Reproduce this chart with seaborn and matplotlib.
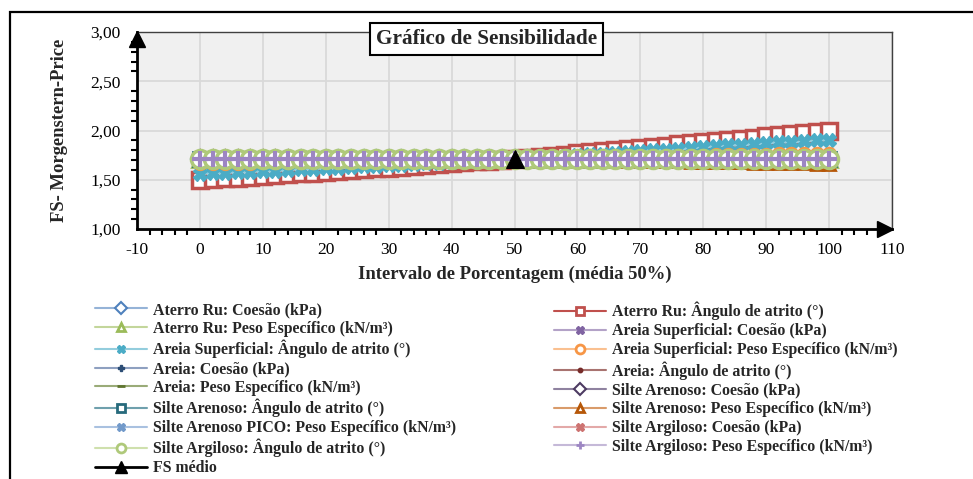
import matplotlib
matplotlib.use("Agg")
import matplotlib.pyplot as plt
import matplotlib.transforms as mtransforms
from matplotlib.lines import Line2D
from matplotlib.patches import Rectangle
from matplotlib.ticker import FuncFormatter, MultipleLocator
import seaborn as sns

# eixo x: intervalo de porcentagem
x_pct = [0, 2, 4, 6, 8, 10, 12, 14, 16, 18, 20, 22, 24, 26, 28, 30, 32, 34, 36, 38,
         40, 42, 44, 46, 48, 50, 52, 54, 56, 58, 60, 62, 64, 66, 68, 70, 72, 74, 76, 78,
         80, 82, 84, 86, 88, 90, 92, 94, 96, 98, 100]

fs_flat = [1.71, 1.71, 1.71, 1.71, 1.71, 1.71, 1.71, 1.71, 1.71, 1.71, 1.71, 1.71, 1.71,
           1.71, 1.71, 1.71, 1.71, 1.71, 1.71, 1.71, 1.71, 1.71, 1.71, 1.71, 1.71, 1.71,
           1.71, 1.71, 1.71, 1.71, 1.71, 1.71, 1.71, 1.71, 1.71, 1.71, 1.71, 1.71, 1.71,
           1.71, 1.71, 1.71, 1.71, 1.71, 1.71, 1.71, 1.71, 1.71, 1.71, 1.71, 1.71]

aterro_angulo = [1.50, 1.51, 1.52, 1.52, 1.53, 1.54, 1.55, 1.56, 1.57, 1.57, 1.58, 1.59, 1.60,
                 1.61, 1.62, 1.62, 1.63, 1.64, 1.65, 1.66, 1.67, 1.68, 1.69, 1.69, 1.70, 1.71,
                 1.72, 1.73, 1.74, 1.75, 1.77, 1.78, 1.79, 1.80, 1.81, 1.82, 1.83, 1.84, 1.86,
                 1.87, 1.88, 1.89, 1.90, 1.91, 1.92, 1.94, 1.95, 1.96, 1.97, 1.98, 1.99]

areia_sup_angulo = [1.56, 1.57, 1.57, 1.58, 1.58, 1.59, 1.59, 1.60, 1.61, 1.61, 1.62, 1.62, 1.63,
                    1.64, 1.64, 1.65, 1.65, 1.66, 1.67, 1.67, 1.68, 1.69, 1.69, 1.70, 1.70, 1.71,
                    1.72, 1.73, 1.73, 1.74, 1.75, 1.76, 1.76, 1.77, 1.78, 1.79, 1.80, 1.80, 1.81,
                    1.82, 1.83, 1.84, 1.85, 1.85, 1.86, 1.87, 1.88, 1.88, 1.89, 1.90, 1.90]

areia_sup_peso = [1.67, 1.67, 1.67, 1.67, 1.67, 1.68, 1.68, 1.68, 1.68, 1.68, 1.69, 1.69, 1.69,
                  1.69, 1.69, 1.70, 1.70, 1.70, 1.70, 1.70, 1.71, 1.71, 1.71, 1.71, 1.71, 1.71,
                  1.72, 1.72, 1.72, 1.72, 1.72, 1.73, 1.73, 1.73, 1.73, 1.73, 1.74, 1.74, 1.74,
                  1.74, 1.74, 1.75, 1.75, 1.75, 1.75, 1.75, 1.76, 1.76, 1.76, 1.76, 1.76]

silte_arenoso_peso = [1.73, 1.73, 1.73, 1.73, 1.73, 1.73, 1.73, 1.73, 1.72, 1.72, 1.72, 1.72, 1.72,
                      1.72, 1.72, 1.72, 1.72, 1.72, 1.72, 1.72, 1.72, 1.72, 1.71, 1.71, 1.71, 1.71,
                      1.71, 1.71, 1.71, 1.70, 1.70, 1.70, 1.70, 1.70, 1.69, 1.69, 1.69, 1.69, 1.69,
                      1.68, 1.68, 1.68, 1.68, 1.68, 1.67, 1.67, 1.67, 1.67, 1.67, 1.66, 1.66]

fs_medio_x = [50]
fs_medio_y = [1.71]

y_ticks = [1.00, 1.50, 2.00, 2.50, 3.00]
x_ticks = [-10, 0, 10, 20, 30, 40, 50, 60, 70, 80, 90, 100, 110]

# (rotulo, dados, cor linha, marcador, tamanho, cor marcador, preenchimento, espessura)
series = [
    ("Aterro Ru: Coesão (kPa)", fs_flat, "#95b3d7", "D", 9, "#4F81BD", "white", 1.5),
    ("Aterro Ru: Ângulo de atrito (°)", aterro_angulo, "#C0504D", "s", 11, "#C0504D", "white", 2.5),
    ("Aterro Ru: Peso Específico (kN/m³)", fs_flat, "#c3d69b", "^", 12, "#9BBB59", "white", 2),
    ("Areia Superficial: Coesão (kPa)", fs_flat, "#b3a2c7", "X", 9, "#8064A2", "#8064A2", 1),
    ("Areia Superficial: Ângulo de atrito (°)", areia_sup_angulo, "#93cddd", "X", 10, "#4BACC6", "#4BACC6", 1),
    ("Areia Superficial: Peso Específico (kN/m³)", areia_sup_peso, "#fac090", "o", 9, "#F79646", "white", 2),
    ("Areia: Coesão (kPa)", fs_flat, "#8ea0c0", "P", 6, "#2C4D75", "#2C4D75", 1),
    ("Areia: Ângulo de atrito (°)", fs_flat, "#a87370", "o", 4, "#772C2A", "#772C2A", 1),
    ("Areia: Peso Específico (kN/m³)", fs_flat, "#9aab78", "_", 7, "#5F7530", "#5F7530", 4),
    ("Silte Arenoso: Coesão (kPa)", fs_flat, "#8f82a0", "D", 8, "#4D3B62", "white", 1.5),
    ("Silte Arenoso: Ângulo de atrito (°)", fs_flat, "#6fa0ad", "s", 10, "#276A7C", "white", 2),
    ("Silte Arenoso: Peso Específico (kN/m³)", silte_arenoso_peso, "#d99b6a", "^", 9, "#B65708", "white", 2),
    ("Silte Arenoso PICO: Peso Específico (kN/m³)", fs_flat, "#a9c1e0", "X", 8, "#729ACA", "#729ACA", 1),
    ("Silte Argiloso: Coesão (kPa)", fs_flat, "#e3a9a8", "X", 8, "#CD7371", "#CD7371", 1),
    ("Silte Argiloso: Ângulo de atrito (°)", fs_flat, "#cfe0ad", "o", 13, "#AFC97A", "white", 2.5),
    ("Silte Argiloso: Peso Específico (kN/m³)", fs_flat, "#c5b9d8", "+", 12, "#9d86c3", "#9d86c3", 3),
]

sns.set_theme(style="white")
plt.rcParams["font.family"] = ["Liberation Serif", "DejaVu Serif"]
plt.rcParams["axes.unicode_minus"] = False

fig = plt.figure(figsize=(9.73, 4.79), dpi=100)
ax = fig.add_axes([0.1408, 0.5219, 0.776, 0.4113])
ax.set_facecolor("#f0f0f0")

handles = []
for label, ys, lc, mk, ms, mc, mfc, mew in series:
    sns.lineplot(x=x_pct, y=ys, ax=ax, color=lc, lw=2, marker=mk, markersize=ms,
                 markeredgecolor=mc, markerfacecolor=mfc, markeredgewidth=mew,
                 estimator=None, sort=False, zorder=3)
    handles.append(Line2D([], [], color=lc, lw=1.5, marker=mk, markersize=min(ms, 8) * 0.8,
                          markeredgecolor=mc, markerfacecolor=mfc,
                          markeredgewidth=min(mew, 2)))

sns.lineplot(x=fs_medio_x, y=fs_medio_y, ax=ax, color="black", marker="^",
             markersize=13, markeredgecolor="black", estimator=None, zorder=4)
handles.append(Line2D([], [], color="black", lw=2, marker="^", markersize=8,
                      markeredgecolor="black", markerfacecolor="black"))
labels = [s[0] for s in series] + ["FS médio"]

ax.set_xlim(-10, 110)
ax.set_ylim(1.0, 3.0)
ax.set_xticks(x_ticks)
ax.set_yticks(y_ticks)
ax.xaxis.set_minor_locator(MultipleLocator(2))
ax.yaxis.set_minor_locator(MultipleLocator(0.1))
ax.yaxis.set_major_formatter(FuncFormatter(lambda v, p: f"{v:.2f}".replace(".", ",")))
ax.grid(True, which="major", color="#d9d9d9", lw=1.3)
ax.set_axisbelow(True)

for side in ["left", "bottom"]:
    ax.spines[side].set_color("black")
    ax.spines[side].set_linewidth(2)
for side in ["top", "right"]:
    ax.spines[side].set_color("#404040")
    ax.spines[side].set_linewidth(1)

ax.tick_params(axis="both", which="major", direction="inout", length=8, width=1.5,
               color="black", labelsize=12.5, labelcolor="black")
ax.tick_params(axis="both", which="minor", direction="out", length=4, width=1.5,
               color="black", bottom=True, left=True)
ax.tick_params(axis="y", which="major", pad=8)
ax.tick_params(axis="x", which="major", pad=5)

# setas nas pontas dos eixos
up = mtransforms.offset_copy(ax.transAxes, fig=fig, x=0, y=-7, units="dots")
ax.plot([0], [1], marker="^", color="black", markersize=11, transform=up, clip_on=False, zorder=6)
right = mtransforms.offset_copy(ax.transAxes, fig=fig, x=-7, y=0, units="dots")
ax.plot([1], [0], marker=">", color="black", markersize=11, transform=right, clip_on=False, zorder=6)

ax.set_xlabel("Intervalo de Porcentagem (média 50%)", fontsize=13.4, fontweight="bold", labelpad=6)
ax.set_ylabel("FS- Morgenstern-Price", fontsize=13.4, fontweight="bold", labelpad=16)

fig.text(0.5005, 0.9186, "Gráfico de Sensibilidade", ha="center", va="center",
         fontsize=15.3, fontweight="bold",
         bbox=dict(boxstyle="square,pad=0.28", facecolor="white", edgecolor="black", lw=1.5))

left_idx = list(range(0, 17, 2))
right_idx = list(range(1, 16, 2))
leg_kw = dict(loc="upper left", frameon=False, borderpad=0, borderaxespad=0,
              handlelength=3.3, handletextpad=0.38, labelspacing=0.18,
              prop={"weight": "bold", "size": 11.4, "family": "Liberation Serif"})
fig.legend([handles[i] for i in left_idx], [labels[i] for i in left_idx],
           bbox_to_anchor=(95 / 973, 1 - 302 / 479), **leg_kw)
fig.legend([handles[i] for i in right_idx], [labels[i] for i in right_idx],
           bbox_to_anchor=(554 / 973, 1 - 302 / 479), **leg_kw)

# moldura externa
fig.patches.append(Rectangle((10 / 973, -0.5), 2, 0.5 + (1 - 12 / 479), transform=fig.transFigure,
                             fill=False, edgecolor="black", lw=1.6, zorder=10))

fig.savefig("out.png", dpi=100)
